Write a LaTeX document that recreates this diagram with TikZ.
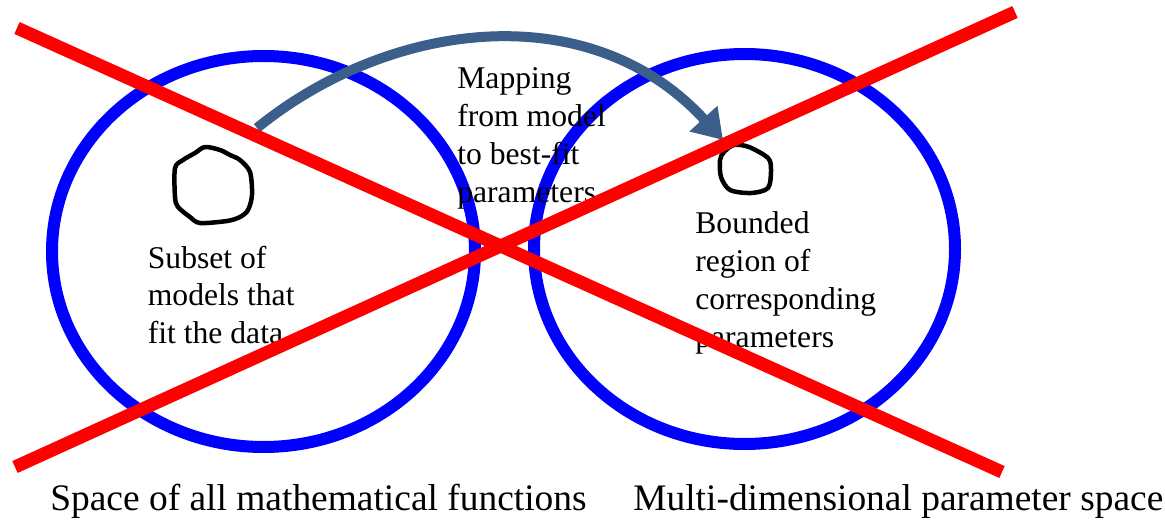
\documentclass[tikz,border=0pt]{standalone}
\usepackage{fontspec}
\setmainfont{Liberation Serif}
\usetikzlibrary{arrows.meta}
\definecolor{ringblue}{HTML}{0000FF}
\definecolor{crossred}{HTML}{FF0000}
\definecolor{mapsteel}{HTML}{3B5E8B}

\begin{document}
\begin{tikzpicture}[x=0.02cm,y=-0.02cm,
  ring/.style={line width=0.24cm,ringblue},
  blob/.style={line width=0.09cm,black,line join=round},
  cross/.style={line width=0.26cm,crossred},
  notes/.style={font=\fontsize{18}{21.5}\selectfont,align=left,anchor=north west,inner sep=0pt},
  caption/.style={font=\fontsize{21.3}{25}\selectfont,anchor=base west,inner sep=0pt}]
  \useasboundingbox (0,0) rectangle (1165,520);
  % the two spaces
  \draw[ring] (263.5,251.5) ellipse [x radius=211.5, y radius=195.5];
  \draw[ring] (744.5,249) ellipse [x radius=210.5, y radius=195];
  % hand-drawn regions
  \draw[blob] plot[smooth cycle,tension=0.5] coordinates {(205,147) (220,150) (230,155) (240,160) (250,172) (252,195) (248,210) (240,217) (227,221) (200,223) (190,217) (178,207) (175,197) (175,168) (183,160) (195,153)};
  \draw[blob] plot[smooth cycle,tension=0.5] coordinates {(734,145) (749,147) (768,158) (771,170) (768,188) (751,193) (730,190) (721,177) (720,160) (724,152)};
  % mapping arrow
  \coordinate (mapfrom) at (257,128);
  \coordinate (mapto) at (723,140);
  \draw[mapsteel,line width=0.2cm,-{Triangle[length=0.58cm,width=0.72cm]}]
    (mapfrom) .. controls (390,20) and (590,-5) .. (mapto);
  % labels
  \node[notes] (subset) at (147.5,245.5) {Subset of\\models that\\fit the data};
  \node[notes] (mapping) at (457,67.5) {Mapping\\from model\\to best-fit\\parameters};
  \node[notes] (bounded) at (695,211.5) {Bounded\\region of\\corresponding\\parameters};
  \node[caption] (funcspace) at (50,510) {Space of all mathematical functions};
  \node[caption] (paramspace) at (633,510) {Multi-dimensional parameter space};
  % crossing out
  \coordinate (xa) at (17,28);
  \coordinate (xb) at (1002,472);
  \coordinate (xc) at (15,467);
  \coordinate (xd) at (1015,12);
  \draw[cross] (xa) -- (xb);
  \draw[cross] (xc) -- (xd);
\end{tikzpicture}
\end{document}
